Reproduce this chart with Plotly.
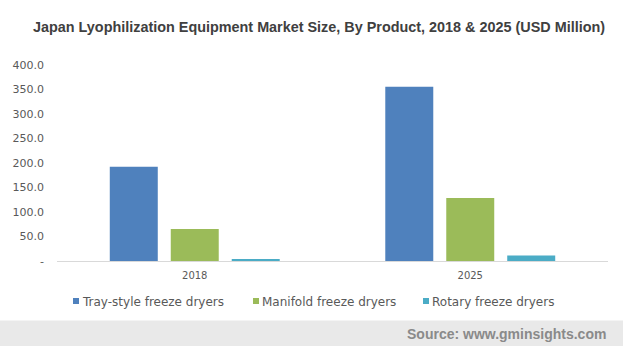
import plotly.graph_objects as go

years = ["2018", "2025"]
products = ["Tray-style freeze dryers", "Manifold freeze dryers", "Rotary freeze dryers"]
tray = [192.5, 355.5]
manifold = [65.5, 128.5]
rotary = [4.0, 11.0]
colors = ["#4F81BD", "#9BBB59", "#4BACC6"]

tick_vals = [0, 50, 100, 150, 200, 250, 300, 350, 400]
tick_text = ["-", "50.0", "100.0", "150.0", "200.0", "250.0", "300.0", "350.0", "400.0"]

W, H = 623, 346
L, R, T, B = 57, 15, 65, 85
PW, PH = W - L - R, H - T - B


def px(x):
    return (x - L) / PW


def py(y):
    return (H - B - y) / PH


fig = go.Figure()
for name, vals, col in zip(products, [tray, manifold, rotary], colors):
    fig.add_trace(go.Bar(x=years, y=vals, name=name, showlegend=False,
                         marker=dict(color=col, line=dict(width=0))))

# legend row drawn as small swatches followed by labels
legend_left = [73, 253, 423]
shapes = [dict(type="rect", xref="paper", yref="paper", x0=px(-5), x1=px(W + 5),
               y0=py(H + 5), y1=py(320.5), fillcolor="#e9e9e9",
               line=dict(width=0), layer="below")]
annotations = [
    dict(text="<b>Japan Lyophilization Equipment Market Size, By Product, 2018 & 2025 (USD Million)</b>",
         xref="paper", yref="paper", x=px(319), y=py(27), xanchor="center", yanchor="middle",
         showarrow=False, font=dict(family="Liberation Sans", size=14.4, color="#404040")),
    dict(text="<b>Source: www.gminsights.com</b>", xref="paper", yref="paper",
         x=px(608), y=py(334), xanchor="right", yanchor="middle", showarrow=False,
         font=dict(family="Liberation Sans", size=14, color="#8a8a8a")),
]
for name, col, x0 in zip(products, colors, legend_left):
    shapes.append(dict(type="rect", xref="paper", yref="paper", x0=px(x0), x1=px(x0 + 6),
                       y0=py(304), y1=py(298), fillcolor=col, line=dict(width=0)))
    annotations.append(dict(text=name, xref="paper", yref="paper", x=px(x0 + 6.5), y=py(301.5),
                            xanchor="left", yanchor="middle", showarrow=False,
                            font=dict(family="DejaVu Sans", size=12, color="#595959")))

fig.update_layout(
    width=W, height=H,
    margin=dict(l=L, r=R, t=T, b=B),
    paper_bgcolor="white", plot_bgcolor="white",
    barmode="group", bargap=0.336, bargroupgap=0.213,
    font=dict(family="DejaVu Sans", size=11, color="#595959"),
    showlegend=False,
    xaxis=dict(showline=True, linecolor="#d9d9d9", linewidth=1, ticks="", showgrid=False,
               ticklabelstandoff=5,
               tickfont=dict(family="DejaVu Sans", size=10, color="#595959")),
    yaxis=dict(range=[0, 400], tickvals=tick_vals, ticktext=tick_text, showgrid=False,
               zeroline=False, showline=False, ticks="", ticklabelstandoff=12,
               tickfont=dict(family="DejaVu Sans", size=11, color="#595959")),
    shapes=shapes,
    annotations=annotations,
)

fig.write_html("out.html")
